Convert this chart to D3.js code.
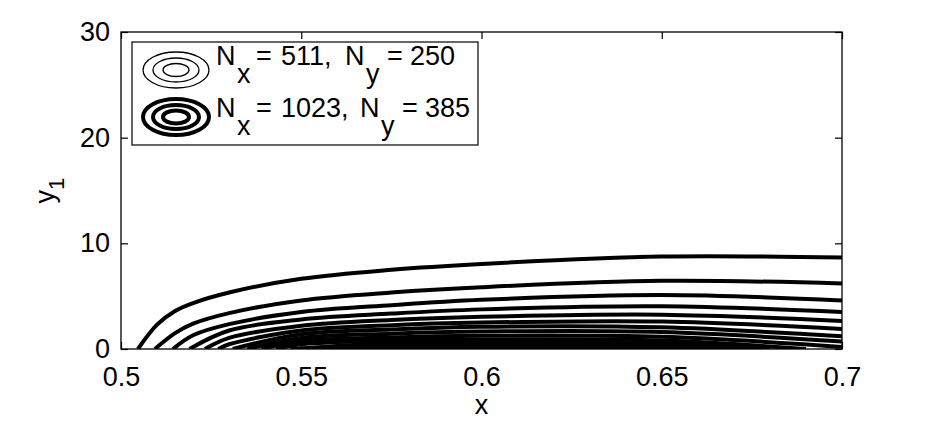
<!DOCTYPE html>
<html>
<head>
<meta charset="utf-8">
<script src="https://cdn.jsdelivr.net/npm/d3@7"></script>
<style>
  body { margin: 0; background: #fff; }
  text { font-family: 'Liberation Sans', Arial, sans-serif; fill: #000; }
</style>
</head>
<body>
<div id="chart"></div>
<script>
// tick values
const xTicks = [0.5, 0.55, 0.6, 0.65, 0.7];
const yTicks = [0, 10, 20, 30];

// contour lines
// x where each contour leaves the wall, x where it comes back (null = beyond 0.7)
const startX = [0.5047, 0.5094, 0.5144, 0.519, 0.5233, 0.527, 0.531, 0.535, 0.539, 0.543, 0.547, 0.552, 0.558, 0.565];
const endX   = [null, null, null, null, null, null, null, null, null, 0.69, 0.68, 0.67, 0.66, 0.645];
const sampleX = [0.51, 0.515, 0.52, 0.53, 0.55, 0.575, 0.6, 0.65, 0.7];
const heights = [
  [2.3, 3.6, 4.35, 5.35, 6.65, 7.5, 8.05, 8.75, 8.65],
  [null, 1.5, 2.4, 3.4, 4.6, 5.35, 5.85, 6.45, 6.2],
  [null, null, 1.3, 2.35, 3.5, 4.15, 4.65, 5.1, 4.6],
  [null, null, null, 1.75, 2.8, 3.35, 3.75, 4.05, 3.5],
  [null, null, null, 1.05, 2.2, 2.75, 3.05, 3.25, 2.65],
  [null, null, null, 0.45, 1.75, 2.25, 2.5, 2.6, 1.9],
  [null, null, null, null, 1.4, 1.85, 2.1, 2.05, 1.2],
  [null, null, null, null, 1.05, 1.45, 1.65, 1.6, 0.7],
  [null, null, null, null, 0.75, 1.1, 1.25, 1.15, 0.2],
  [null, null, null, null, 0.45, 0.8, 0.9, 0.8, null],
  [null, null, null, null, null, 0.55, 0.62, 0.5, null],
  [null, null, null, null, null, 0.32, 0.4, 0.3, null],
  [null, null, null, null, null, 0.15, 0.2, 0.12, null],
  [null, null, null, null, null, 0.05, 0.08, null, null]
];

const legendLabels = [
  { N: '511', M: '250', width: 1.3, xs: [216, 237, 256, 281, 345, 366, 387, 410] },
  { N: '1023', M: '385', width: 4, xs: [216, 237, 256, 281, 360, 381, 402, 425] }
];

const W = 932, H = 421;
const margin = { top: 32, right: 90, bottom: 72, left: 121 };
const plotW = W - margin.left - margin.right;
const plotH = H - margin.top - margin.bottom;

const svg = d3.select('#chart').append('svg')
  .attr('width', W)
  .attr('height', H);

const g = svg.append('g')
  .attr('transform', 'translate(' + margin.left + ',' + margin.top + ')');

const x = d3.scaleLinear().domain([0.5, 0.7]).range([0, plotW]);
const y = d3.scaleLinear().domain([0, 30]).range([plotH, 0]);

// contours
g.append('clipPath').attr('id', 'clip')
  .append('rect').attr('width', plotW).attr('height', plotH);

const line = d3.line()
  .x(d => x(d[0]))
  .y(d => y(d[1]))
  .curve(d3.curveCatmullRom.alpha(0.5));

const curves = heights.map(function(row, i) {
  const pts = [[startX[i], 0]];
  row.forEach(function(v, j) {
    if (v !== null && sampleX[j] > startX[i]) pts.push([sampleX[j], v]);
  });
  if (endX[i] !== null) pts.push([endX[i], 0]);
  return pts;
});

g.append('g')
  .attr('clip-path', 'url(#clip)')
  .selectAll('path')
  .data(curves)
  .enter().append('path')
    .attr('d', line)
    .attr('fill', 'none')
    .attr('stroke', '#000')
    .attr('stroke-width', 4);

// axes with inward ticks on all four sides (box on)
const tickLen = 7;
const fmt = d3.format('');
const axStyle = function(sel) {
  sel.select('.domain').remove();
  sel.selectAll('line').attr('stroke', '#000').attr('stroke-width', 1.2);
  sel.selectAll('text').attr('font-size', '27px');
};

g.append('g')
  .attr('transform', 'translate(0,' + plotH + ')')
  .call(d3.axisBottom(x).tickValues(xTicks).tickFormat(fmt).tickSizeInner(-tickLen).tickSizeOuter(0).tickPadding(18))
  .call(axStyle);
g.append('g')
  .call(d3.axisTop(x).tickValues(xTicks).tickFormat('').tickSizeInner(-tickLen).tickSizeOuter(0))
  .call(axStyle);
g.append('g')
  .call(d3.axisLeft(y).tickValues(yTicks).tickSizeInner(-tickLen).tickSizeOuter(0).tickPadding(11))
  .call(axStyle);
g.append('g')
  .attr('transform', 'translate(' + plotW + ',0)')
  .call(d3.axisRight(y).tickValues(yTicks).tickFormat('').tickSizeInner(-tickLen).tickSizeOuter(0))
  .call(axStyle);

g.append('rect')
  .attr('width', plotW)
  .attr('height', plotH)
  .attr('fill', 'none')
  .attr('stroke', '#000')
  .attr('stroke-width', 1.3);

// axis titles
g.append('text')
  .attr('x', plotW / 2)
  .attr('y', plotH + 65)
  .attr('text-anchor', 'middle')
  .attr('font-size', '27px')
  .text('x');

const yl = g.append('text')
  .attr('transform', 'translate(' + (-67) + ',' + (plotH / 2) + ') rotate(-90)')
  .attr('text-anchor', 'middle')
  .attr('font-size', '27px');
yl.append('tspan').text('y');
yl.append('tspan').attr('dy', 10).attr('font-size', '22px').text('1');

// legend
const leg = svg.append('g');
leg.append('rect')
  .attr('x', 132).attr('y', 42)
  .attr('width', 346).attr('height', 103)
  .attr('fill', '#fff')
  .attr('stroke', '#000')
  .attr('stroke-width', 1.2);

const rings = [[33, 18], [23, 12], [13, 6.5]];
legendLabels.forEach(function(d, i) {
  const cy = 70 + i * 47;
  leg.selectAll('ellipse.r' + i)
    .data(rings)
    .enter().append('ellipse')
      .attr('cx', 176).attr('cy', cy)
      .attr('rx', r => r[0]).attr('ry', r => r[1])
      .attr('fill', 'none')
      .attr('stroke', '#000')
      .attr('stroke-width', d.width);

  const base = 65 + i * 52;
  const t = leg.append('text').attr('font-size', '27px');
  const parts = ['N', 'x', '=', d.N + ',', 'N', 'y', '=', d.M];
  parts.forEach(function(p, k) {
    const sub = (k === 1 || k === 5);
    t.append('tspan')
      .attr('x', d.xs[k])
      .attr('y', sub ? base + 18 : base)
      .text(p);
  });
});
</script>
</body>
</html>
